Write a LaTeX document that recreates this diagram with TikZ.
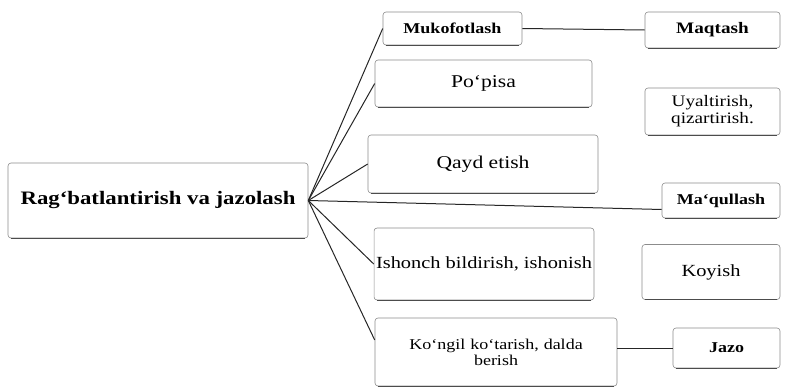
\documentclass[tikz,border=0pt]{standalone}
\usepackage{fontspec}
\setmainfont{Liberation Serif}[FakeStretch=1.2]
\begin{document}
\begin{tikzpicture}[x=1pt,y=-1pt,
  box/.style={draw=black!45, line width=0.6pt, rounded corners=3pt, fill=white, align=center, inner sep=2pt, font=\fontsize{15}{16}\selectfont},
  conn/.style={draw=black!85, line width=1pt}]
\useasboundingbox (0,0) rectangle (795,388);
\node[box, minimum width=300pt, minimum height=75pt, font=\fontsize{19}{21}\selectfont\bfseries] (main) at (158,200.5) {Rag`batlantirish va jazolash};
\node[box, minimum width=139pt, minimum height=33pt, font=\fontsize{15}{16}\selectfont\bfseries] (muk) at (452.5,28.5) {Mukofotlash};
\node[box, minimum width=217pt, minimum height=47pt, font=\fontsize{18}{19}\selectfont] (pop) at (483.5,83.5) {Po`pisa};
\node[box, minimum width=230pt, minimum height=58pt, font=\fontsize{18}{19}\selectfont] (qayd) at (483,164) {Qayd etish};
\node[box, minimum width=218pt, minimum height=72pt, font=\fontsize{17}{18}\selectfont] (ish) at (484,264) {Ishonch bildirish, ishonish};
\node[box, minimum width=242pt, minimum height=68pt, text width=220pt] (kon) at (496,352) {Ko`ngil ko`tarish, dalda\\berish};
\node[box, minimum width=135pt, minimum height=36pt, font=\fontsize{16}{17}\selectfont\bfseries] (maq) at (712.5,30) {Maqtash};
\node[box, minimum width=135pt, minimum height=47pt, font=\fontsize{16}{17}\selectfont] (uya) at (712.5,111.5) {Uyaltirish,\\qizartirish.};
\node[box, minimum width=118pt, minimum height=35pt, font=\fontsize{15}{16}\selectfont\bfseries] (maql) at (721,200.5) {Ma`qullash};
\node[box, minimum width=138pt, minimum height=55pt, font=\fontsize{17}{18}\selectfont] (koy) at (711,272) {Koyish};
\node[box, minimum width=107pt, minimum height=40pt, font=\fontsize{15}{16}\selectfont\bfseries] (jazo) at (726.5,348) {Jazo};
\foreach \n in {main,muk,pop,qayd,ish,kon,maq,uya,maql,koy,jazo}
  \draw[black!70, line width=1.3pt] ([xshift=3pt]\n.south west) -- ([xshift=-3pt]\n.south east);
\draw[conn] (main.east) -- (muk.west);
\draw[conn] (main.east) -- (pop.west);
\draw[conn] (main.east) -- (qayd.west);
\draw[conn] (main.east) -- ([yshift=-9pt]maql.west);
\draw[conn] (main.east) -- (ish.west);
\draw[conn] (main.east) -- ([yshift=12pt]kon.west);
\draw[conn] (muk.east) -- (maq.west);
\draw[conn] ([yshift=4pt]kon.east) -- (jazo.west);
\end{tikzpicture}
\end{document}
